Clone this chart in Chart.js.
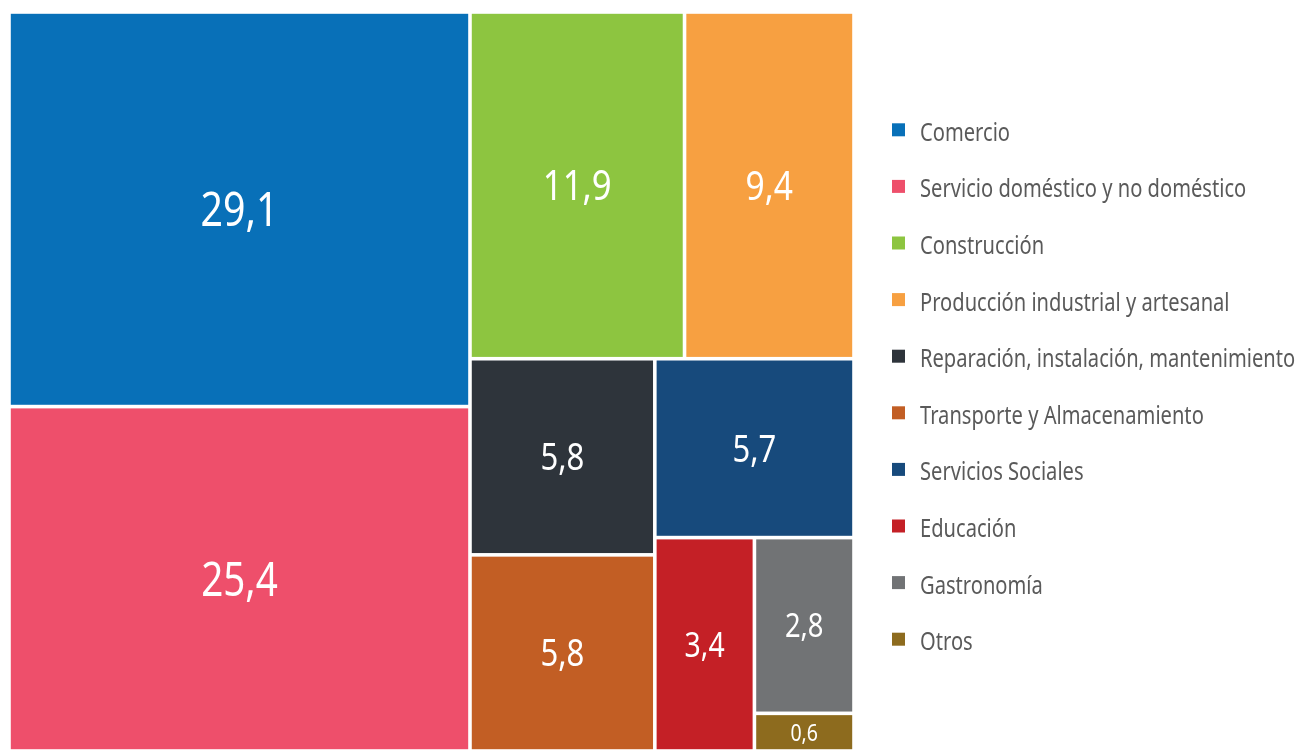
<!DOCTYPE html>
<html><head><meta charset="utf-8">
<script src="https://cdn.jsdelivr.net/npm/chart.js@4"></script>
<style>html,body{margin:0;padding:0;background:#fff;overflow:hidden}#wrap{width:1296px;height:751px;position:relative}</style>
</head><body><div id="wrap"><canvas id="c" width="1296" height="751"></canvas></div>
<script>
// ---- data ----
const categories = [
  'Comercio',
  'Servicio doméstico y no doméstico',
  'Construcción',
  'Producción industrial y artesanal',
  'Reparación, instalación, mantenimiento',
  'Transporte y Almacenamiento',
  'Servicios Sociales',
  'Educación',
  'Gastronomía',
  'Otros'
];
const values = [29.1, 25.4, 11.9, 9.4, 5.8, 5.8, 5.7, 3.4, 2.8, 0.6];
const valueLabels = ['29,1', '25,4', '11,9', '9,4', '5,8', '5,8', '5,7', '3,4', '2,8', '0,6'];
const colors = ['#0870b8', '#ee4f6b', '#8dc540', '#f7a041', '#2e343b', '#c25e24', '#174a7c', '#c42026', '#717375', '#8d6b1e'];
// grouping of the cells (h = side by side, v = stacked); sizes come from values
const groupTree = ['h', ['v', 0, 1], ['v', ['h', 2, 3], ['h', ['v', 4, 5], ['v', 6, ['h', 7, ['v', 8, 9]]]]]];

// ---- layout in value units (0..100 on both axes) ----
function total(node) {
  return typeof node === 'number' ? values[node] : node.slice(1).reduce((s, n) => s + total(n), 0);
}
const cells = [];
function layout(node, x0, y0, x1, y1) {
  if (typeof node === 'number') { cells[node] = {x0, y0, x1, y1}; return; }
  const dir = node[0], kids = node.slice(1), sum = total(node);
  let acc = 0;
  kids.forEach(k => {
    const f0 = acc / sum; acc += total(k); const f1 = acc / sum;
    if (dir === 'h') layout(k, x0 + (x1 - x0) * f0, y0, x0 + (x1 - x0) * f1, y1);
    else layout(k, x0, y0 + (y1 - y0) * f0, x1, y0 + (y1 - y0) * f1);
  });
}
layout(groupTree, 0, 0, 100, 100);

const FONT = "'Noto Sans', 'Open Sans', sans-serif";
const SQUEEZE = 0.82;        // narrow look of the original typeface (cell values)
const LEGEND_SQUEEZE = 0.805; // legend labels
const GAP = 1.8;

function squeezedText(ctx, text, x, y, align, sx) {
  ctx.save();
  ctx.translate(x, y);
  ctx.scale(sx, 1);
  ctx.textAlign = align;
  ctx.fillText(text, 0, 0);
  ctx.restore();
}

const treemapPlugin = {
  id: 'treemapCells',
  beforeDatasetsDraw(chart) {
    const {ctx, scales: {x, y}} = chart;
    ctx.save();
    cells.forEach((r, i) => {
      const l = x.getPixelForValue(r.x0) + GAP, rr = x.getPixelForValue(r.x1) - GAP;
      const t = y.getPixelForValue(r.y0) + GAP, b = y.getPixelForValue(r.y1) - GAP;
      ctx.fillStyle = colors[i];
      ctx.fillRect(l, t, rr - l, b - t);
    });
    ctx.restore();
  },
  afterDatasetsDraw(chart) {
    const {ctx, scales: {x, y}} = chart;
    ctx.save();
    ctx.fillStyle = '#ffffff';
    ctx.textBaseline = 'alphabetic';
    cells.forEach((r, i) => {
      const cx = x.getPixelForValue((r.x0 + r.x1) / 2);
      const cy = y.getPixelForValue((r.y0 + r.y1) / 2);
      const size = 27 + 6.2 * Math.log(values[i]);
      ctx.font = size.toFixed(1) + 'px ' + FONT;
      squeezedText(ctx, valueLabels[i], cx, cy + size * 0.357, 'center', SQUEEZE);
    });
    ctx.restore();
  },
  afterDraw(chart) {
    // legend on the right of the plot area
    const {ctx, chartArea} = chart;
    const fontSize = 25, box = 13, step = 56.6;
    const boxX = chartArea.right + 38, textX = chartArea.right + 66;
    const midY = (chartArea.top + chartArea.bottom) / 2 + 5;
    const firstY = midY - step * (categories.length - 1) / 2;
    ctx.save();
    ctx.font = fontSize + 'px ' + FONT;
    ctx.textBaseline = 'alphabetic';
    categories.forEach((c, i) => {
      const cy = firstY + step * i;
      ctx.fillStyle = colors[i];
      ctx.fillRect(boxX, cy - box / 2 - 2, box, box);
      ctx.fillStyle = '#5a5a5a';
      squeezedText(ctx, c, textX, cy + fontSize * 0.357, 'left', LEGEND_SQUEEZE);
    });
    ctx.restore();
  }
};

new Chart(document.getElementById('c'), {
  type: 'scatter',
  data: {
    datasets: categories.map((c, i) => ({
      label: c,
      data: [{x: (cells[i].x0 + cells[i].x1) / 2, y: (cells[i].y0 + cells[i].y1) / 2, v: values[i]}],
      backgroundColor: colors[i],
      borderColor: colors[i],
      borderWidth: 0,
      pointRadius: 0
    }))
  },
  options: {
    responsive: false,
    animation: false,
    devicePixelRatio: 1,
    layout: {padding: {left: 9, top: 12, right: 442, bottom: -3}},
    scales: {
      x: {type: 'linear', min: 0, max: 100, display: false},
      y: {type: 'linear', min: 0, max: 100, reverse: true, display: false}
    },
    plugins: {
      tooltip: {enabled: false},
      legend: {display: false}
    }
  },
  plugins: [treemapPlugin]
});
</script>
</body></html>
